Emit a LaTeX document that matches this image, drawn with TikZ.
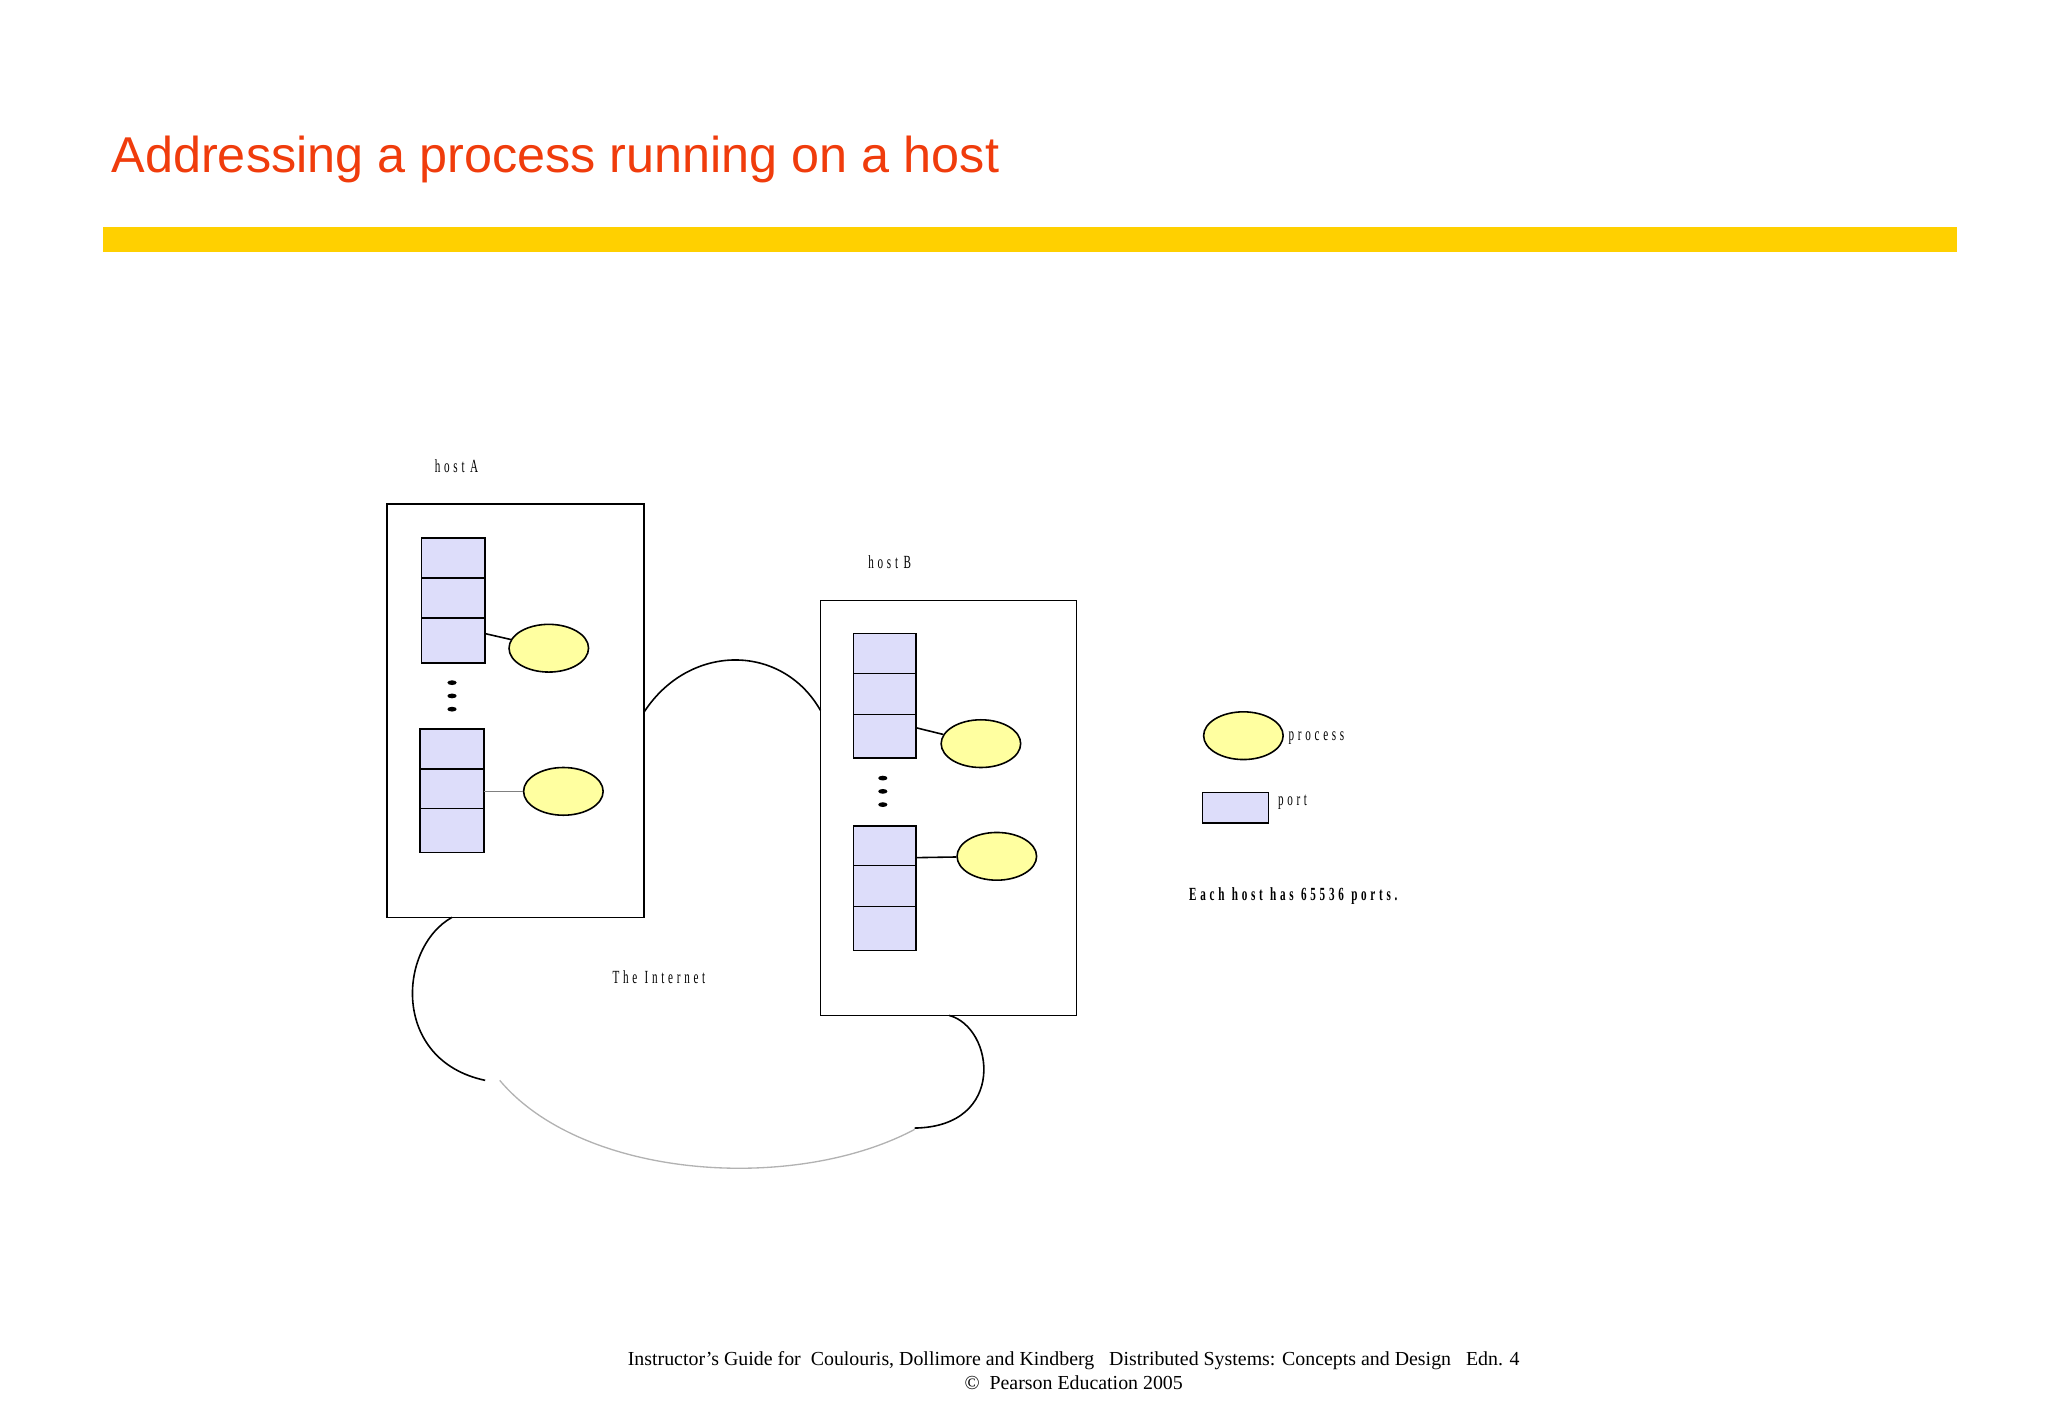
\documentclass[tikz,border=0pt]{standalone}
\usepackage{fontspec}
\usetikzlibrary{shapes.geometric}
\setmainfont{Liberation Serif}
\newfontfamily\sans{Liberation Sans}
\definecolor{ttl}{HTML}{F03C0C}
\definecolor{bar}{HTML}{FFD000}
\definecolor{procf}{HTML}{FFFFA0}
\definecolor{portf}{HTML}{DDDDFA}
\begin{document}
\begin{tikzpicture}[x=1pt,y=-1pt,
  proc/.style={ellipse,draw,fill=procf,line width=1.2pt,minimum width=60pt,minimum height=36pt,inner sep=0},
  port/.style={draw,fill=portf,line width=1.2pt},
  box/.style={draw,line width=1.2pt},
  lbl/.style={font=\fontsize{14}{16}\selectfont,xscale=0.6,inner sep=0,anchor=west},
  ln/.style={line width=1.2pt}]
\useasboundingbox (0,0) rectangle (1545,1070);
\node[anchor=base west,text=ttl,font=\sans\fontsize{38}{40}\selectfont,inner sep=0] (title) at (84,130) {Addressing a process running on a host};
\fill[bar] (78,171) rectangle (1476,190);
% host A
\draw[box] (292,380) rectangle (486,692);
\node[lbl] (la) at (328,352) {h\,\,o\,\,s\,\,t\,\,\,A};
\draw[port] (318,406) rectangle (366,500);
\draw[ln] (318,436)--(366,436) (318,466)--(366,466);
\node[proc] (pa1) at (414,489) {};
\coordinate (ca1) at (366,478);
\draw[ln] (ca1)--(pa1);
\foreach \y in {515,525,535} \fill (341,\y) ellipse (3.5 and 1.8);
\draw[port] (317,550) rectangle (365,643);
\draw[ln] (317,580)--(365,580) (317,610)--(365,610);
\node[proc] (pa2) at (425,597) {};
\coordinate (ca2) at (365,597);
\draw[gray,line width=0.8pt] (ca2)--(pa2);
% host B
\draw[box] (619,453) rectangle (812,766);
\node[lbl] (lb) at (655,424) {h\,\,o\,\,s\,\,t\,\,\,B};
\draw[port] (644,478) rectangle (691,572);
\draw[ln] (644,508)--(691,508) (644,539)--(691,539);
\node[proc] (pb1) at (740,561) {};
\coordinate (cb1) at (691,549);
\draw[ln] (cb1)--(pb1);
\foreach \y in {587,597,607} \fill (666,\y) ellipse (3.5 and 1.8);
\draw[port] (644,623) rectangle (691,717);
\draw[ln] (644,653)--(691,653) (644,684)--(691,684);
\node[proc] (pb2) at (752,646) {};
\coordinate (cb2) at (691,647);
\draw[ln] (cb2)--(pb2);
% cloud
\draw[line width=1.2pt] (486,537) .. controls (520,485) and (590,485) .. (619,536);
\draw[line width=1.2pt] (341,692) .. controls (300,715) and (295,800) .. (366,815);
\draw[gray!60,line width=1pt] (377,815) .. controls (440,890) and (600,900) .. (690,852);
\draw[line width=1.2pt] (716,766) .. controls (750,775) and (760,850) .. (690,851);
\node[lbl] (inet) at (462,737) {T\,\,h\,\,e\,\,\,\,I\,\,n\,\,t\,\,e\,\,r\,\,n\,\,e\,\,t};
% legend
\node[proc] (lp) at (938,555) {};
\node[lbl] (lpt) at (972,557) {p\,\,r\,\,o\,\,c\,\,e\,\,s\,\,s};
\draw[port] (907,598) rectangle (957,621);
\node[lbl] (lrt) at (964,605) {p\,\,o\,\,r\,\,t};
\node[lbl,font=\bfseries\fontsize{14}{16}\selectfont] (each) at (897,676) {E\,\,a\,\,c\,\,h\,\,\,\,h\,\,o\,\,s\,\,t\,\,\,\,h\,\,a\,\,s\,\,\,\,6\,\,5\,\,5\,\,3\,\,6\,\,\,\,p\,\,o\,\,r\,\,t\,\,s\,\,.};
% footer
\node[font=\fontsize{15}{18}\selectfont,align=center,inner sep=0] (foot) at (810,1034) {Instructor’s Guide for\ \ Coulouris, Dollimore and Kindberg\ \ \ Distributed Systems: Concepts and Design\ \ \ Edn. 4\\ ©\ \ Pearson Education 2005};
\end{tikzpicture}
\end{document}
